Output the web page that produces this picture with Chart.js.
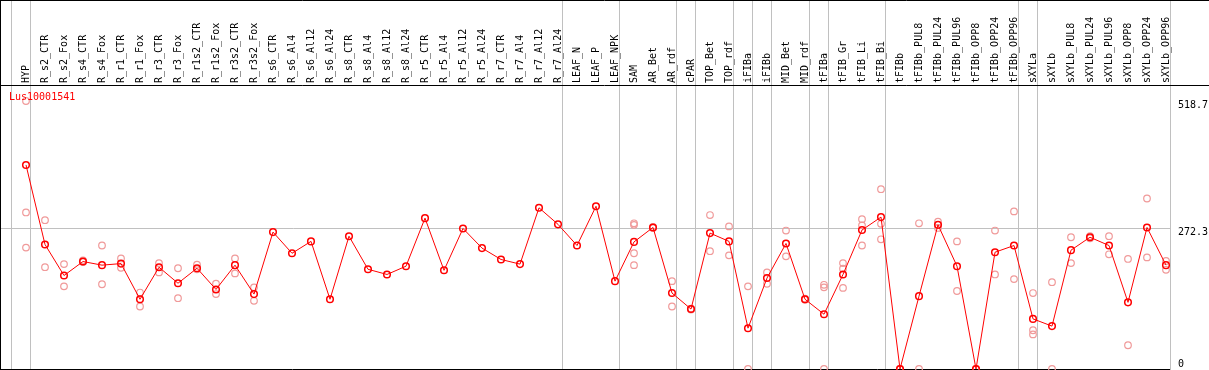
<!DOCTYPE html>
<html>
<head>
<meta charset="utf-8">
<script src="https://cdn.jsdelivr.net/npm/chart.js@4.4.1/dist/chart.umd.min.js"></script>
<style>
  html, body { margin: 0; padding: 0; background: #fff; }
  #wrap { width: 1209px; height: 370px; }
</style>
</head>
<body>
<div id="wrap"><canvas id="chart" width="1209" height="370"></canvas></div>
<script>
const geneName = 'Lus10001541';

const categories = [
  'HYP', 'R_s2_CTR', 'R_s2_Fox', 'R_s4_CTR', 'R_s4_Fox', 'R_r1_CTR', 'R_r1_Fox', 'R_r3_CTR', 'R_r3_Fox',
  'R_r1s2_CTR', 'R_r1s2_Fox', 'R_r3s2_CTR', 'R_r3s2_Fox', 'R_s6_CTR', 'R_s6_Al4', 'R_s6_Al12', 'R_s6_Al24',
  'R_s8_CTR', 'R_s8_Al4', 'R_s8_Al12', 'R_s8_Al24', 'R_r5_CTR', 'R_r5_Al4', 'R_r5_Al12', 'R_r5_Al24',
  'R_r7_CTR', 'R_r7_Al4', 'R_r7_Al12', 'R_r7_Al24', 'LEAF_N', 'LEAF_P', 'LEAF_NPK', 'SAM', 'AR_Bet', 'AR_rdf',
  'cPAR', 'TOP_Bet', 'TOP_rdf', 'iFIBa', 'iFIBb', 'MID_Bet', 'MID_rdf', 'tFIBa', 'tFIB_Gr', 'tFIB_Li', 'tFIB_Bi',
  'tFIBb', 'tFIBb_PUL8', 'tFIBb_PUL24', 'tFIBb_PUL96', 'tFIBb_OPP8', 'tFIBb_OPP24', 'tFIBb_OPP96',
  'sXYLa', 'sXYLb', 'sXYLb_PUL8', 'sXYLb_PUL24', 'sXYLb_PUL96', 'sXYLb_OPP8', 'sXYLb_OPP24', 'sXYLb_OPP96'
];

// mean expression per sample (red line)
const meanValues = [
  395, 241, 181, 208, 201, 204, 135, 197, 166,
  195, 154, 201, 145, 265, 224, 247, 135,
  257, 193, 183, 199, 292, 191, 272, 234,
  212, 203, 312, 280, 239, 315, 170, 246, 274, 147,
  116, 263, 247, 79, 176, 243, 135, 106, 183, 269, 294,
  0, 141, 279, 199, 0, 226, 239,
  97, 83, 230, 255, 239, 129, 274, 201
];

// individual replicates (pink circles)
const repValues = [
  [518.7, 303, 235], [288, 197], [203, 160], [210, 207], [239, 164], [214, 196], [148, 121], [205, 187], [195, 137],
  [202, 193], [165, 145], [214, 185], [158, 132], [], [], [], [],
  [], [], [], [], [], [], [], [],
  [], [], [], [], [], [], [], [282, 279, 224, 201], [275, 273], [170, 121],
  [117, 115], [298, 228], [276, 220], [160, 0], [187, 165], [268, 218], [136, 134], [163, 158, 0], [205, 194, 157], [290, 278, 239], [348, 281, 251],
  [0, 0], [282, 0], [285, 273], [247, 151], [0, 0], [268, 183], [305, 174],
  [147, 75, 67], [168, 0], [255, 205], [257, 253], [257, 222], [213, 46], [330, 216], [209, 192]
];

// last sample index of each sample group (grey separators)
const groupEnds = [-1, 0, 28, 31, 34, 35, 37, 38, 39, 41, 42, 45, 52, 53, 60];

const yTickValues = [518.7, 272.3, 0];
const yMax = 549.7;

const mainPoints = meanValues.map((v, i) => ({ x: i, y: v }));
const repPoints = [];
repValues.forEach((reps, i) => reps.forEach(v => repPoints.push({ x: i, y: v })));

const monoFont = '"DejaVu Sans Mono", "Liberation Mono", monospace';

function noPadding(s) {
  s.paddingLeft = 0;
  s.paddingRight = 0;
  s.paddingTop = 0;
  s.paddingBottom = 0;
}

const framePlugin = {
  id: 'frame',
  beforeDatasetsDraw(chart) {
    const { ctx, chartArea, scales: { x } } = chart;
    ctx.save();
    ctx.lineWidth = 1;
    ctx.strokeStyle = '#c0c0c0';
    groupEnds.forEach(i => {
      const px = Math.round(x.getPixelForValue(i + 0.23)) + 0.5;
      ctx.beginPath();
      ctx.moveTo(px, 0);
      ctx.lineTo(px, chart.height);
      ctx.stroke();
    });

    ctx.strokeStyle = '#000';
    ctx.beginPath();
    ctx.moveTo(0, 0.5); ctx.lineTo(chart.width, 0.5);
    ctx.moveTo(0, chartArea.top + 0.5); ctx.lineTo(chart.width, chartArea.top + 0.5);
    ctx.moveTo(0, chartArea.bottom + 0.5); ctx.lineTo(chartArea.right, chartArea.bottom + 0.5);
    ctx.moveTo(0.5, 0); ctx.lineTo(0.5, chart.height);
    ctx.stroke();
    ctx.restore();
  },
  afterDraw(chart) {
    const { ctx, chartArea, scales: { y } } = chart;
    ctx.save();
    ctx.font = '10px ' + monoFont;
    ctx.textAlign = 'left';

    ctx.fillStyle = '#ff0000';
    ctx.textBaseline = 'middle';
    ctx.fillText(geneName, chartArea.left + 8, chartArea.top + 12);

    ctx.fillStyle = '#000';
    yTickValues.forEach(v => {
      const py = y.getPixelForValue(v);
      if (v === 0) {
        ctx.textBaseline = 'bottom';
        ctx.fillText(String(v), chartArea.right + 8, py);
      } else {
        ctx.textBaseline = 'middle';
        ctx.fillText(v.toFixed(1), chartArea.right + 8, py + 4);
      }
    });
    ctx.restore();
  }
};

new Chart(document.getElementById('chart'), {
  type: 'line',
  data: {
    datasets: [
      {
        label: 'mean',
        data: mainPoints,
        borderColor: '#ff0000',
        borderWidth: 1,
        pointRadius: 3.3,
        pointBorderWidth: 1.5,
        pointBorderColor: '#ff0000',
        pointBackgroundColor: 'rgba(0,0,0,0)',
        tension: 0,
        clip: false
      },
      {
        label: 'replicates',
        data: repPoints,
        showLine: false,
        pointRadius: 3.3,
        pointBorderWidth: 1.2,
        pointBorderColor: '#f09a9a',
        pointBackgroundColor: 'rgba(0,0,0,0)',
        clip: false
      }
    ]
  },
  options: {
    responsive: false,
    animation: false,
    devicePixelRatio: 1,
    layout: { autoPadding: false, padding: { left: 1, right: 0, top: 0, bottom: 1 } },
    plugins: {
      legend: { display: false },
      tooltip: { enabled: false },
      title: { display: false }
    },
    scales: {
      x: {
        type: 'linear',
        position: 'top',
        min: -25 / 19,
        max: 60 + 4 / 19,
        afterBuildTicks: s => { s.ticks = categories.map((_, i) => ({ value: i })); },
        afterFit: s => { s.height = 85; noPadding(s); },
        grid: { display: false, drawTicks: false },
        border: { display: false },
        ticks: {
          autoSkip: false,
          maxRotation: 90,
          minRotation: 90,
          padding: 2,
          labelOffset: 12,
          color: '#000',
          font: { family: monoFont, size: 10 },
          callback: v => categories[v] ?? ''
        }
      },
      y: {
        type: 'linear',
        position: 'right',
        min: 0,
        max: yMax,
        afterBuildTicks: s => { s.ticks = [{ value: 272.3 }]; },
        afterFit: s => { s.width = 39; noPadding(s); },
        grid: { color: '#c0c0c0', drawTicks: false },
        border: { display: false },
        ticks: { display: false }
      }
    }
  },
  plugins: [framePlugin]
});
</script>
</body>
</html>
